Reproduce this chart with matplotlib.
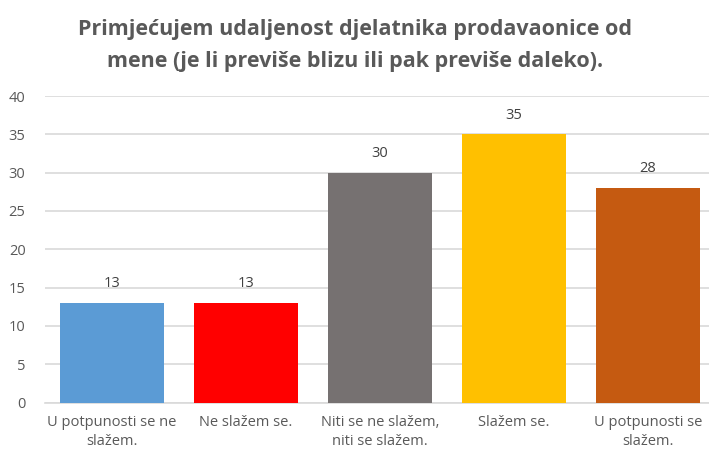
import matplotlib
matplotlib.use("Agg")
import matplotlib.pyplot as plt

categories = ["U potpunosti se ne\nslažem.", "Ne slažem se.",
              "Niti se ne slažem,\nniti se slažem.", "Slažem se.",
              "U potpunosti se\nslažem."]
values = [13, 13, 30, 35, 28]
colors = ["#5b9bd5", "#ff0000", "#767171", "#ffc000", "#c55a11"]
yticks = [0, 5, 10, 15, 20, 25, 30, 35, 40]
title_lines = ["Primjećujem udaljenost djelatnika prodavaonice od",
               "mene (je li previše blizu ili pak previše daleko)."]

plt.rcParams["font.family"] = ["Open Sans", "DejaVu Sans"]
text_color = "#595959"

W, H = 709, 454
fig = plt.figure(figsize=(W / 100, H / 100), dpi=100)
# plot area runs a little past the right edge of the canvas
ax = fig.add_axes([45 / W, 1 - 402.5 / H, 670 / W, 306.5 / H])

x = range(len(categories))
ax.bar(x, values, width=0.77, color=colors, zorder=3)
for xi, v in zip(x, values):
    ax.text(xi, v + 2.5, str(v), ha="center", va="center", fontsize=10.5,
            color="#404040")

ax.set_xlim(-0.5, len(categories) - 0.5)
ax.set_ylim(0, 40)
ax.set_yticks(yticks)
ax.set_xticks(list(x))
ax.set_xticklabels(categories, fontsize=10.5, color=text_color, linespacing=1.35)
ax.tick_params(axis="y", labelsize=10.5, labelcolor=text_color, length=0, pad=14)
ax.tick_params(axis="x", length=0, pad=9)
ax.grid(axis="y", color="#d9d9d9", linewidth=1.2, zorder=0)
for s in ["top", "right", "left"]:
    ax.spines[s].set_visible(False)
ax.spines["bottom"].set_color("#d9d9d9")
ax.spines["bottom"].set_linewidth(1.2)

for i, line in enumerate(title_lines):
    fig.text(355 / W, 1 - (35 + 32 * i) / H, line, ha="center", va="baseline",
             fontsize=15.5, fontweight="bold", color=text_color)

fig.savefig("out.png", dpi=100)
